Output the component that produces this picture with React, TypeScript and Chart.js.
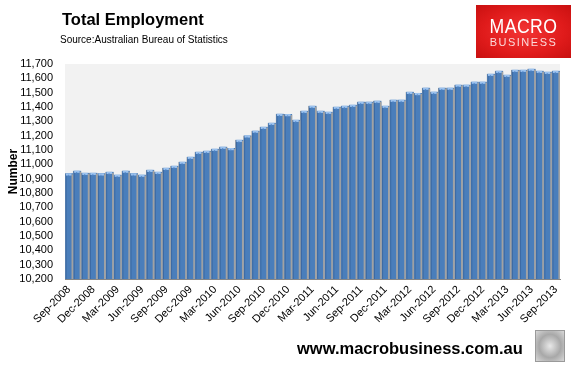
import React, { useEffect, useRef } from "react";
import { Chart, registerables } from "chart.js";

Chart.register(...registerables);

const months: string[] = [
  "Sep-2008", "Oct-2008", "Nov-2008", "Dec-2008", "Jan-2009", "Feb-2009", "Mar-2009", "Apr-2009", "May-2009", "Jun-2009",
  "Jul-2009", "Aug-2009", "Sep-2009", "Oct-2009", "Nov-2009", "Dec-2009", "Jan-2010", "Feb-2010", "Mar-2010", "Apr-2010",
  "May-2010", "Jun-2010", "Jul-2010", "Aug-2010", "Sep-2010", "Oct-2010", "Nov-2010", "Dec-2010", "Jan-2011", "Feb-2011",
  "Mar-2011", "Apr-2011", "May-2011", "Jun-2011", "Jul-2011", "Aug-2011", "Sep-2011", "Oct-2011", "Nov-2011", "Dec-2011",
  "Jan-2012", "Feb-2012", "Mar-2012", "Apr-2012", "May-2012", "Jun-2012", "Jul-2012", "Aug-2012", "Sep-2012", "Oct-2012",
  "Nov-2012", "Dec-2012", "Jan-2013", "Feb-2013", "Mar-2013", "Apr-2013", "May-2013", "Jun-2013", "Jul-2013", "Aug-2013",
  "Sep-2013",
];

const employment: number[] = [
  10937, 10956, 10941, 10941, 10937, 10948, 10928, 10956, 10937, 10928,
  10962, 10948, 10976, 10990, 11018, 11053, 11088, 11095, 11109, 11123,
  11114, 11171, 11202, 11235, 11262, 11290, 11353, 11351, 11311, 11374,
  11409, 11374, 11367, 11402, 11409, 11416, 11437, 11437, 11444, 11409,
  11451, 11451, 11506, 11498, 11535, 11507, 11535, 11535, 11556, 11556,
  11577, 11577, 11632, 11653, 11625, 11660, 11660, 11667, 11653, 11646,
  11653,
];

const yMin = 10200;
const yMax = 11700;
const yStep = 100;
const labelEvery = 3;

const FONT = "'Liberation Sans', Arial, sans-serif";

export default function App() {
  const canvasRef = useRef<HTMLCanvasElement | null>(null);

  useEffect(() => {
    const canvas = canvasRef.current;
    if (!canvas) return;

    const plotBg = {
      id: "plotBg",
      beforeDatasetsDraw(chart: any) {
        const { ctx, chartArea } = chart;
        ctx.save();
        ctx.fillStyle = "#f2f2f2";
        ctx.fillRect(chartArea.left, chartArea.top, chartArea.right - chartArea.left, chartArea.bottom - chartArea.top);
        ctx.restore();
      },
    };

    const barCaps = {
      id: "barCaps",
      afterDatasetsDraw(chart: any) {
        const { ctx } = chart;
        const meta = chart.getDatasetMeta(0);
        const bottom = chart.chartArea.bottom;
        ctx.save();
        meta.data.forEach((bar: any) => {
          const { x, y, width } = bar.getProps(["x", "y", "width"], true);
          const l = x - width / 2;
          // gray shadow gap on the right
          ctx.fillStyle = "#a2a2a2";
          ctx.fillRect(l + width - 1.6, y + 1, 1.6, bottom - y - 1);
          // darker left edge
          ctx.fillStyle = "#3d6aa3";
          ctx.fillRect(l + 0.6, y + 1, 1, bottom - y - 1);
          // light top cap
          ctx.fillStyle = "#9cc2ee";
          ctx.fillRect(l + 1, y, width - 2.6, 2.2);
          ctx.fillStyle = "#5b8fd0";
          ctx.fillRect(x - 1.2, y + 1.4, 1.2, 1.2);
        });
        ctx.restore();
      },
    };

    const chart = new Chart(canvas, {
      type: "bar",
      data: {
        labels: months,
        datasets: [
          {
            data: employment,
            backgroundColor: "#4a7ebb",
            borderColor: "#9c9c9c",
            borderWidth: { left: 0.6, right: 0, top: 0, bottom: 0 },
            barPercentage: 1,
            categoryPercentage: 1,
          },
        ],
      },
      options: {
        animation: false,
        responsive: false,
        maintainAspectRatio: false,
        devicePixelRatio: 1,
        layout: { padding: { top: 64, right: 25, left: 0, bottom: 0 } },
        plugins: { legend: { display: false }, tooltip: { enabled: false } },
        scales: {
          x: {
            grid: { display: false, drawTicks: false, tickLength: 0 },
            border: { display: true, color: "#868686", width: 1 },
            ticks: {
              autoSkip: false,
              minRotation: 45,
              maxRotation: 45,
              padding: 4,
              color: "#000",
              font: { family: FONT, size: 11 },
              callback: (_v: any, i: number) => (i % labelEvery === 0 ? months[i] : ""),
            },
            afterFit: (scale: any) => {
              scale.height = 90;
            },
          },
          y: {
            min: yMin,
            max: yMax,
            grid: { display: false, drawTicks: false, tickLength: 0 },
            border: { display: true, color: "#868686", width: 1 },
            ticks: {
              autoSkip: false,
              stepSize: yStep,
              padding: 12,
              color: "#000",
              font: { family: FONT, size: 11 },
              callback: (v: any) => Number(v).toLocaleString("en-US"),
            },
            title: {
              display: true,
              text: "Number",
              color: "#000",
              font: { family: FONT, size: 12, weight: "bold" },
              padding: { top: 6, bottom: 0 },
            },
            afterFit: (scale: any) => {
              scale.width = 65;
            },
          },
        },
      },
      plugins: [plotBg, barCaps],
    });

    return () => chart.destroy();
  }, []);

  return (
    <div style={{ position: "absolute", left: 0, top: 0, width: 585, height: 369, background: "#fff", overflow: "hidden" }}>
      <canvas ref={canvasRef} width={585} height={369} style={{ position: "absolute", left: 0, top: 0, width: 585, height: 369 }} />
      <div
        style={{
          position: "absolute",
          left: 62,
          top: 11,
          fontFamily: FONT,
          fontWeight: "bold",
          fontSize: 16.5,
          lineHeight: 1,
          color: "#000",
          whiteSpace: "nowrap",
        }}
      >
        Total Employment
      </div>
      <div
        style={{
          position: "absolute",
          left: 60,
          top: 35,
          fontFamily: FONT,
          fontSize: 10,
          lineHeight: 1,
          color: "#000",
          whiteSpace: "nowrap",
        }}
      >
        Source:Australian Bureau of Statistics
      </div>
      <div
        style={{
          position: "absolute",
          left: 476,
          top: 5,
          width: 95,
          height: 53,
          background: "radial-gradient(ellipse at center, #f23535 0%, #e01b1b 60%, #c81010 100%)",
          color: "#fff",
          fontFamily: FONT,
          textAlign: "center",
        }}
      >
        <div
          style={{
            position: "absolute",
            left: 0,
            right: 0,
            top: 10,
            fontSize: 21,
            lineHeight: 1,
            letterSpacing: 0.5,
            transform: "scaleX(0.84)",
          }}
        >
          MACRO
        </div>
        <div
          style={{
            position: "absolute",
            left: 0,
            right: 0,
            top: 32,
            fontSize: 11,
            lineHeight: 1,
            letterSpacing: 1.5,
            color: "#fbd9d9",
          }}
        >
          BUSINESS
        </div>
      </div>
      <div
        style={{
          position: "absolute",
          left: 297,
          top: 340,
          fontFamily: FONT,
          fontWeight: "bold",
          fontSize: 16.5,
          lineHeight: 1,
          color: "#000",
          whiteSpace: "nowrap",
        }}
      >
        www.macrobusiness.com.au
      </div>
      <div
        style={{
          position: "absolute",
          left: 535,
          top: 330,
          width: 28,
          height: 30,
          border: "1px solid #9a9a9a",
          background: "radial-gradient(ellipse at center, #e8e8e8 0%, #a8a8a8 55%, #d8d8d8 100%)",
        }}
      />
    </div>
  );
}
